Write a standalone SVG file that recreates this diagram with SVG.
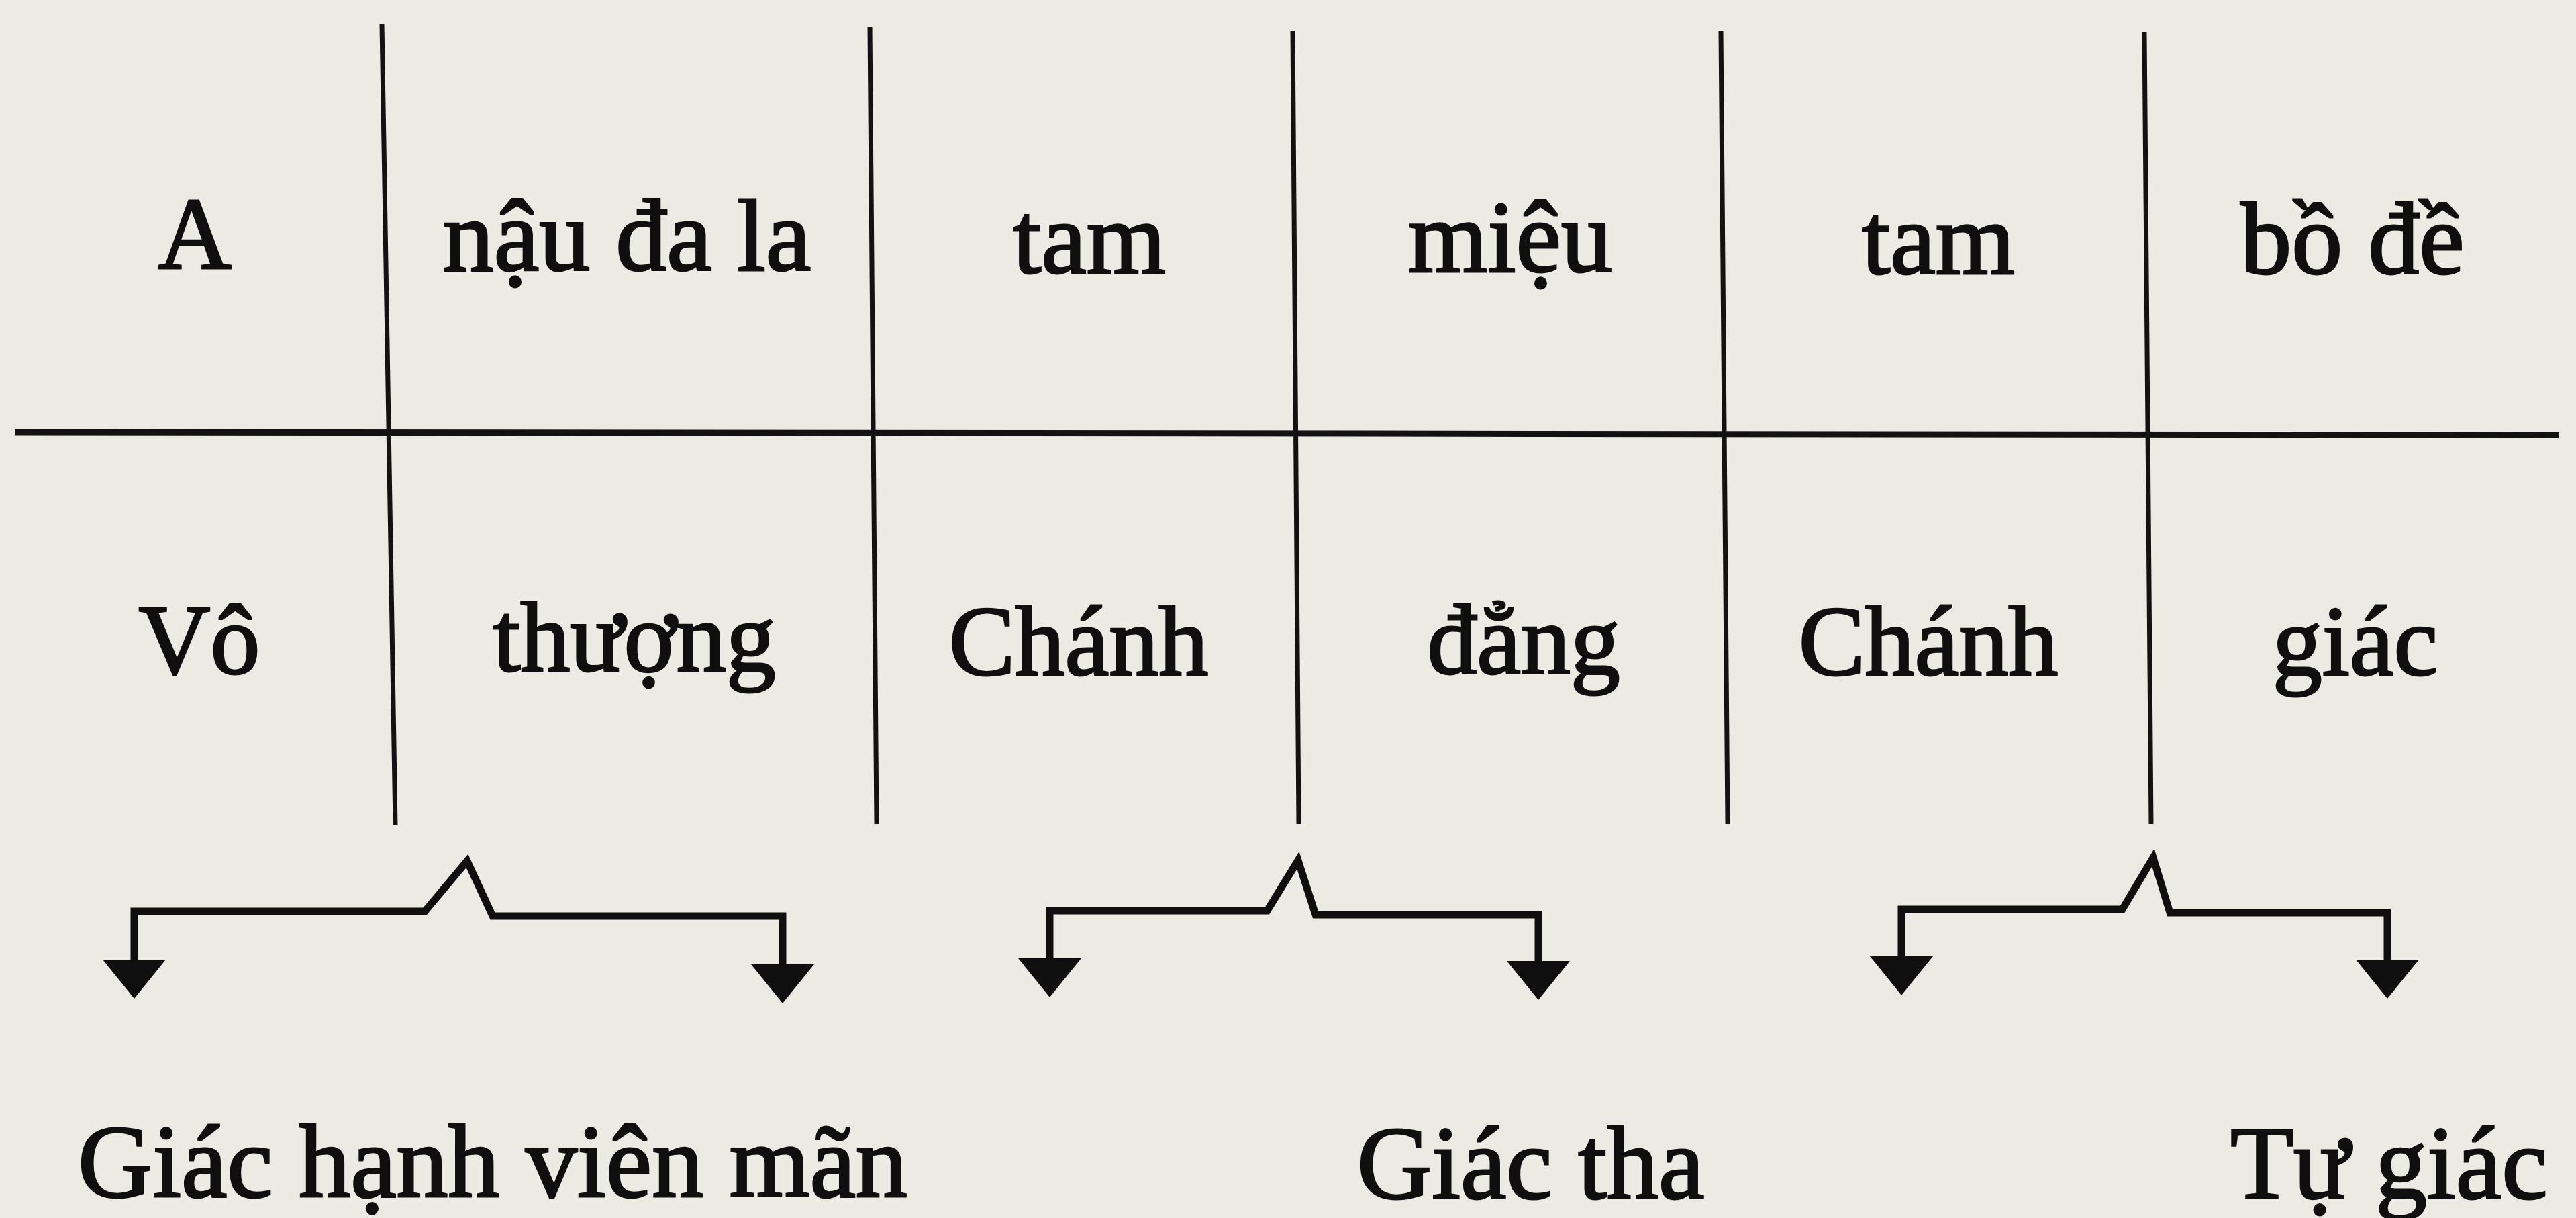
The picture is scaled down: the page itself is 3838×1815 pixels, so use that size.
<svg xmlns="http://www.w3.org/2000/svg" width="3838" height="1815" viewBox="0 0 3838 1815">
  <defs>
    <style>
      .rule { stroke: #121212; stroke-width: 7; stroke-linecap: butt; fill: none; }
      .rule-h { stroke: #121212; stroke-width: 9; fill: none; }
      .brace { stroke: #0f0f0f; stroke-width: 11; fill: none; stroke-linejoin: miter; stroke-miterlimit: 10; }
      .t { font-family: "Liberation Serif", "Times New Roman", serif; fill: #0f0f0f; stroke: #0f0f0f; stroke-width: 3; }
      .r1 { font-size: 152px; text-anchor: middle; }
      .r2 { font-size: 148px; text-anchor: middle; }
      .r3 { font-size: 154px; }
    </style>
    <marker id="head" markerUnits="userSpaceOnUse" viewBox="0 0 58 94" refX="0" refY="47"
            markerWidth="58" markerHeight="94" orient="auto-start-reverse">
      <path d="M0,0 L58,47 L0,94 z" fill="#0f0f0f"/>
    </marker>
  </defs>

  <!-- paper -->
  <rect width="3838" height="1815" fill="#ecebe3"/>

  <!-- table rules -->
  <g id="table-grid">
    <line class="rule-h" x1="22" y1="644" x2="3812" y2="648"/>
    <line class="rule" x1="569" y1="36" x2="589" y2="1230"/>
    <line class="rule" x1="1296" y1="40" x2="1306" y2="1228"/>
    <line class="rule" x1="1926" y1="46" x2="1935" y2="1228"/>
    <line class="rule" x1="2564" y1="46" x2="2574" y2="1228"/>
    <line class="rule" x1="3195" y1="48" x2="3205" y2="1228"/>
  </g>

  <!-- upper row: Sanskrit transliteration -->
  <g id="cell-a"><text class="t r1" x="290" y="400">A</text></g>
  <g id="cell-nau-da-la"><text class="t r1" x="934" y="403">nậu đa la</text></g>
  <g id="cell-tam-1"><text class="t r1" x="1623" y="407">tam</text></g>
  <g id="cell-mieu"><text class="t r1" x="2250" y="405">miệu</text></g>
  <g id="cell-tam-2"><text class="t r1" x="2888" y="408">tam</text></g>
  <g id="cell-bo-de"><text class="t r1" x="3505" y="408">bồ đề</text></g>

  <!-- lower row: Sino-Vietnamese rendering -->
  <g id="cell-vo"><text class="t r2" x="297" y="1004">Vô</text></g>
  <g id="cell-thuong"><text class="t r2" x="945" y="1000">thượng</text></g>
  <g id="cell-chanh-1"><text class="t r2" x="1607" y="1006">Chánh</text></g>
  <g id="cell-dang"><text class="t r2" x="2270" y="1004">đẳng</text></g>
  <g id="cell-chanh-2"><text class="t r2" x="2873" y="1006">Chánh</text></g>
  <g id="cell-giac"><text class="t r2" x="3509" y="1006">giác</text></g>

  <!-- braces splitting into two arrows -->
  <g id="connectors">
    <path class="brace" marker-start="url(#head)" marker-end="url(#head)"
          d="M200,1430 V1358 H633 L696,1283 L734,1365 H1166 V1437"/>
    <path class="brace" marker-start="url(#head)" marker-end="url(#head)"
          d="M1564,1428 V1357 H1888 L1934,1282 L1960,1363 H2292 V1432"/>
    <path class="brace" marker-start="url(#head)" marker-end="url(#head)"
          d="M2833,1425 V1355 H3162 L3208,1278 L3233,1360 H3557 V1430"/>
  </g>

  <!-- resulting meanings -->
  <g id="label-giac-hanh-vien-man"><text class="t r3" x="116" y="1783">Giác hạnh viên mãn</text></g>
  <g id="label-giac-tha"><text class="t r3" x="2022" y="1785">Giác tha</text></g>
  <g id="label-tu-giac"><text class="t r3" x="3323" y="1785">Tự giác</text></g>
</svg>
